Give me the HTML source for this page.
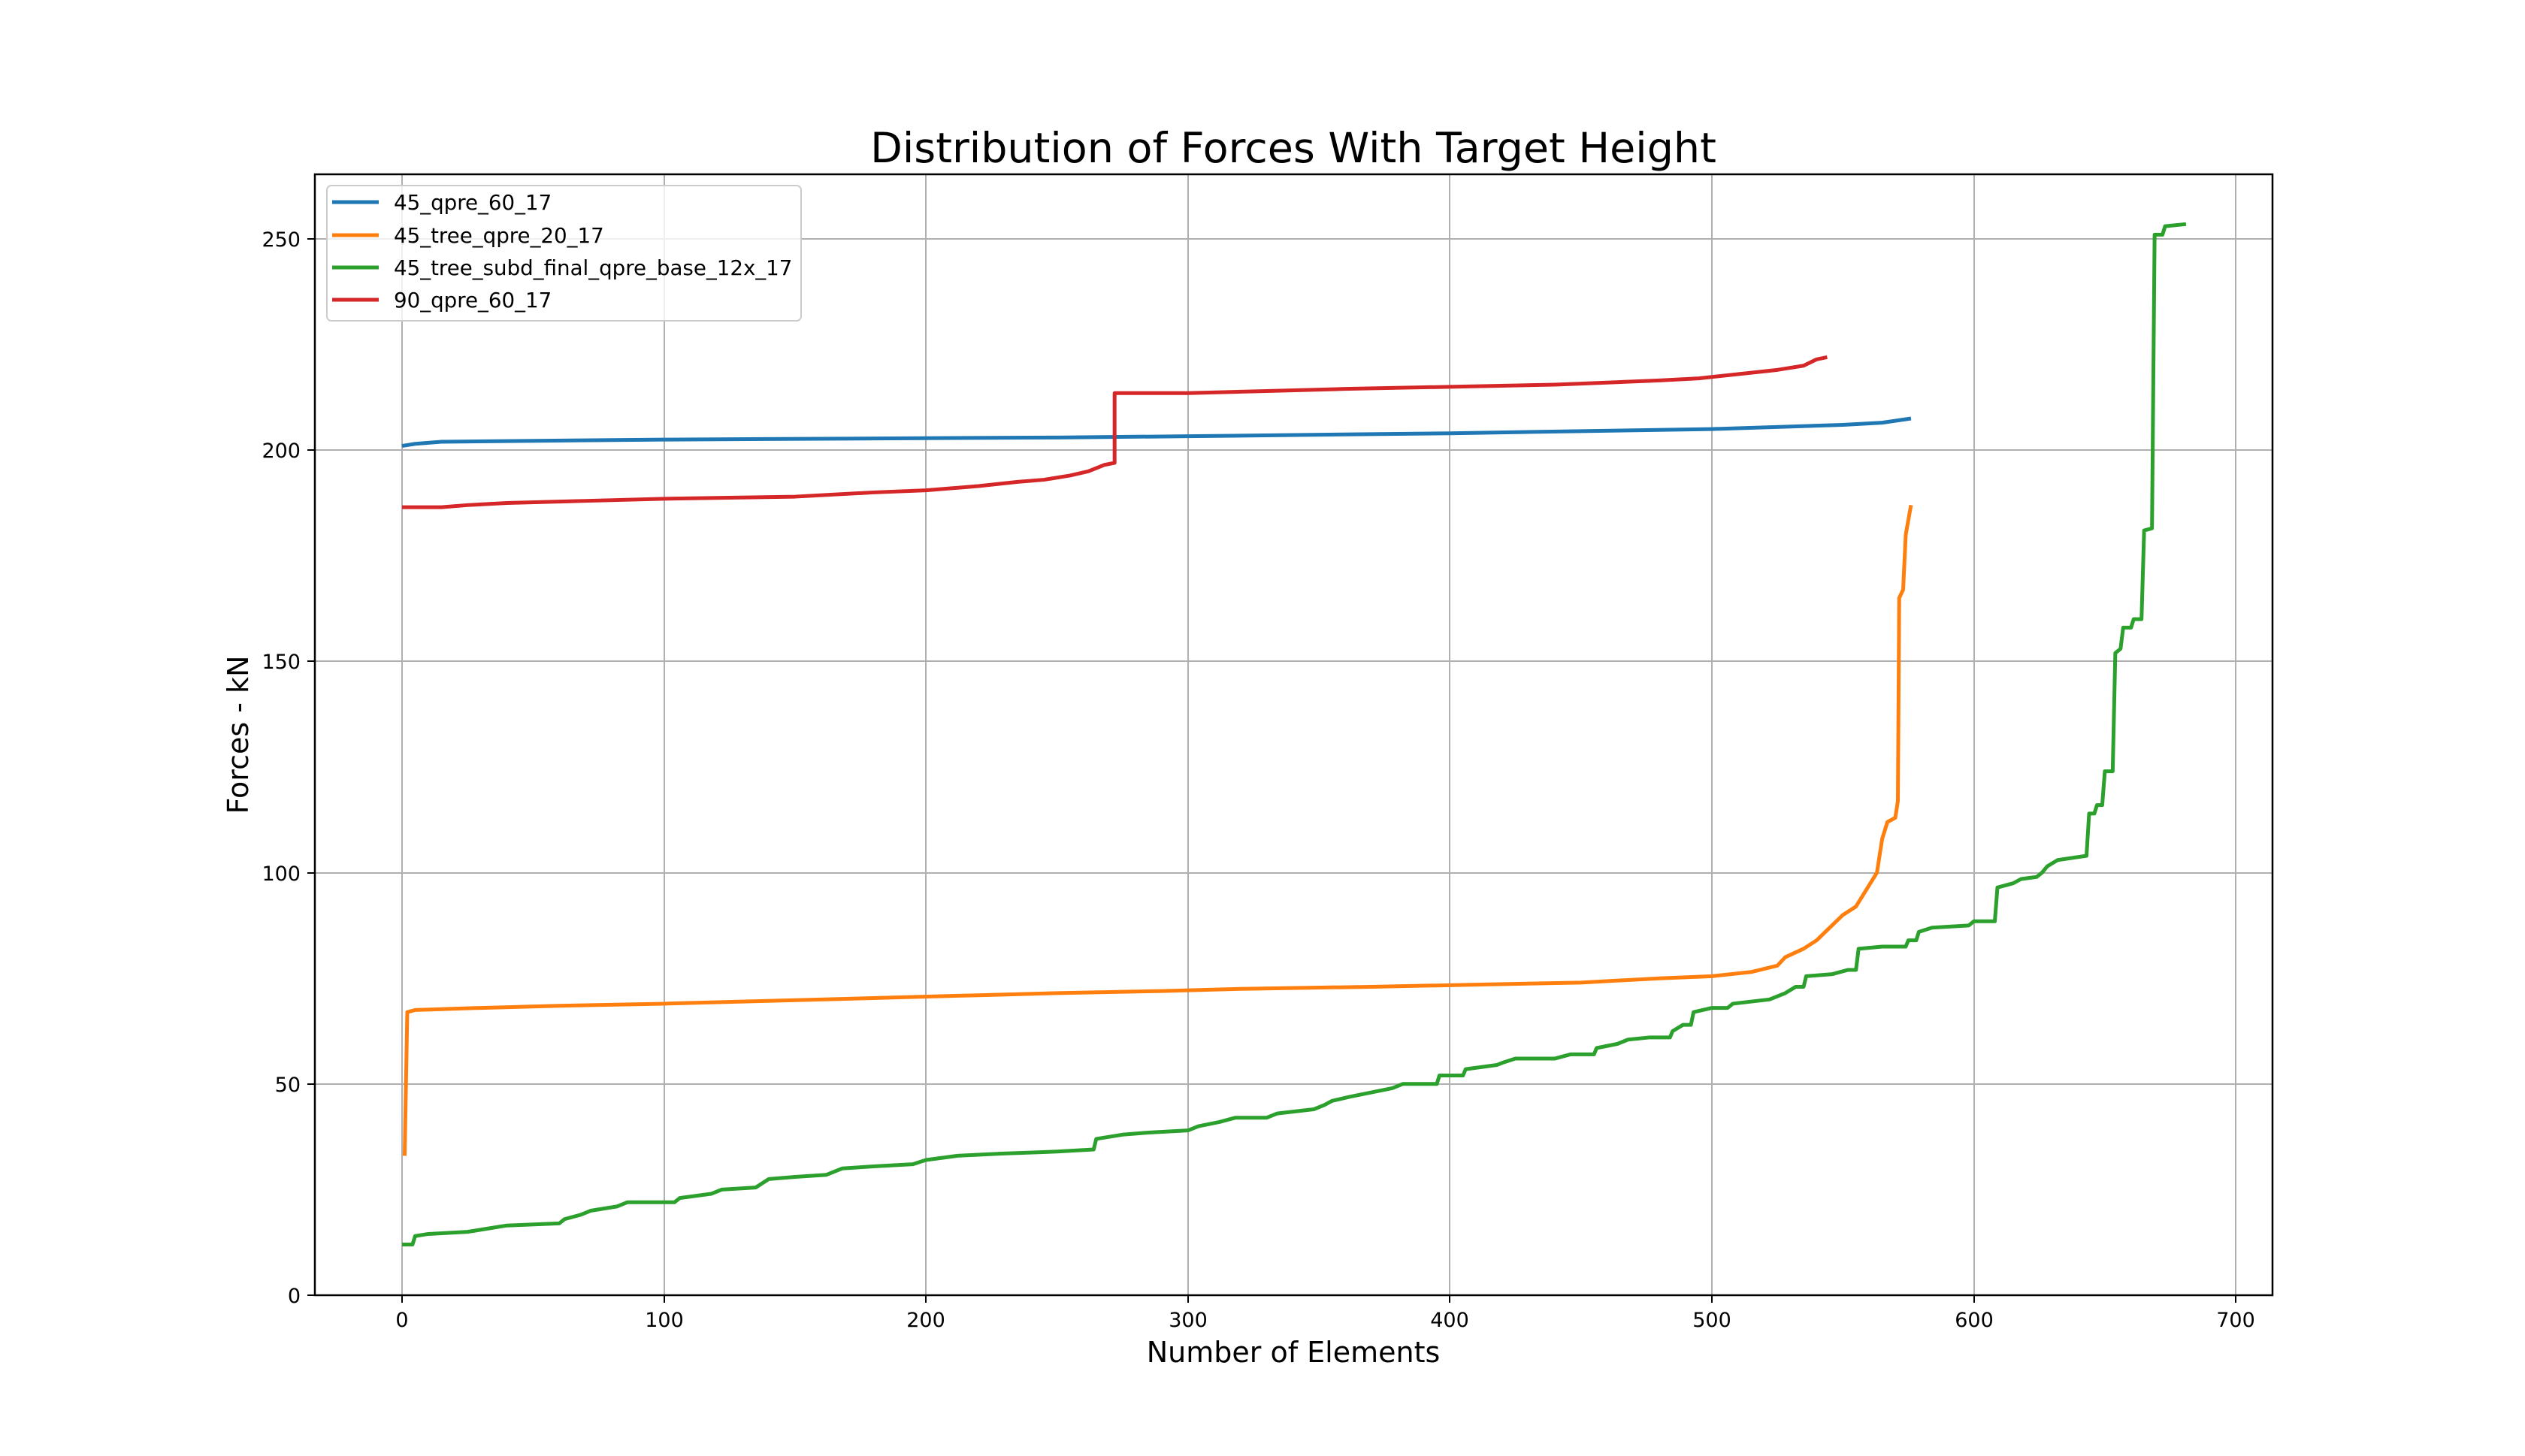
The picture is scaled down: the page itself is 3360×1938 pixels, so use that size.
<!DOCTYPE html>
<html><head><meta charset="utf-8"><style>
html,body{margin:0;padding:0;background:#fff;}
svg{display:block;font-family:"DejaVu Sans","Liberation Sans",sans-serif;}
</style></head><body>
<svg width="3360" height="1938" viewBox="0 0 3360 1938" xmlns="http://www.w3.org/2000/svg">
<rect width="3360" height="1938" fill="#fff"/>
<g stroke="#b0b0b0" stroke-width="2">
<line x1="535" y1="232" x2="535" y2="1724"/><line x1="884" y1="232" x2="884" y2="1724"/>
<line x1="1232" y1="232" x2="1232" y2="1724"/><line x1="1581" y1="232" x2="1581" y2="1724"/>
<line x1="1929" y1="232" x2="1929" y2="1724"/><line x1="2278" y1="232" x2="2278" y2="1724"/>
<line x1="2627" y1="232" x2="2627" y2="1724"/><line x1="2975" y1="232" x2="2975" y2="1724"/>
<line x1="419" y1="1724" x2="3024" y2="1724"/><line x1="419" y1="1443" x2="3024" y2="1443"/>
<line x1="419" y1="1162" x2="3024" y2="1162"/><line x1="419" y1="880" x2="3024" y2="880"/>
<line x1="419" y1="599" x2="3024" y2="599"/><line x1="419" y1="318" x2="3024" y2="318"/>
</g>
<g transform="matrix(3.486,0,0,-5.624,535,1724)" fill="none" stroke-linejoin="round">
<polyline vector-effect="non-scaling-stroke" stroke="#1f77b4" stroke-width="5" points="0,201 5,201.5 15,202 100,202.5 250,203 300,203.3 400,204 500,205 550,206 565,206.5 576,207.5"/>
<polyline vector-effect="non-scaling-stroke" stroke="#ff7f0e" stroke-width="5" points="1,33 2,67 5,67.5 30,68 60,68.5 100,69 130,69.5 160,70 190,70.5 220,71 250,71.5 290,72 320,72.5 370,73 410,73.5 450,74 480,75 500,75.5 515,76.5 525,78 528,80 535,82 540,84 545,87 550,90 555,92 558,95 563,100 565,108 567,112 570,113 571,117 571.5,165 573,167 574,180 576,187"/>
<polyline vector-effect="non-scaling-stroke" stroke="#2ca02c" stroke-width="5" points="0,12 4,12 5,14 10,14.5 25,15 35,16 40,16.5 60,17 62,18 68,19 72,20 82,21 86,22 104,22 106,23 118,24 122,25 135,25.5 140,27.5 150,28 162,28.5 168,30 180,30.5 195,31 200,32 212,33 228,33.5 250,34 264,34.5 265,37 275,38 285,38.5 300,39 304,40 312,41 318,42 330,42 334,43 348,44 352,45 355,46 362,47 370,48 378,49 382,50 395,50 396,52 405,52 406,53.5 418,54.5 420,55 425,56 440,56 446,57 455,57 456,58.5 464,59.5 468,60.5 476,61 484,61 485,62.5 489,64 492,64 493,67 500,68 506,68 508,69 522,70 528,71.5 532,73 535,73 536,75.5 546,76 552,77 555,77 556,82 565,82.5 574,82.5 575,84 578,84 579,86 584,87 598,87.5 600,88.5 608,88.5 609,96.5 615,97.5 618,98.5 624,99 626,100 628,101.5 632,103 643,104 644,114 646,114 647,116 649,116 650,124 653,124 654,152 656,153 657,158 660,158 661,160 664,160 665,181 668,181.5 669,251 672,251 673,253 681,253.5"/>
<polyline vector-effect="non-scaling-stroke" stroke="#d62728" stroke-width="5" points="0,186.5 15,186.5 25,187 40,187.5 70,188 100,188.5 150,189 180,190 200,190.5 220,191.5 235,192.5 245,193 255,194 262,195 268,196.5 272,197 272,213.5 300,213.5 330,214 360,214.5 400,215 440,215.5 460,216 480,216.5 495,217 510,218 525,219 535,220 540,221.5 544,222"/>
</g>
<rect x="419" y="232" width="2605" height="1492" fill="none" stroke="#000" stroke-width="2.5"/>
<g stroke="#000" stroke-width="2">
<line x1="535" y1="1724" x2="535" y2="1734"/><line x1="884" y1="1724" x2="884" y2="1734"/>
<line x1="1232" y1="1724" x2="1232" y2="1734"/><line x1="1581" y1="1724" x2="1581" y2="1734"/>
<line x1="1929" y1="1724" x2="1929" y2="1734"/><line x1="2278" y1="1724" x2="2278" y2="1734"/>
<line x1="2627" y1="1724" x2="2627" y2="1734"/><line x1="2975" y1="1724" x2="2975" y2="1734"/>
<line x1="409" y1="1724" x2="419" y2="1724"/><line x1="409" y1="1443" x2="419" y2="1443"/>
<line x1="409" y1="1162" x2="419" y2="1162"/><line x1="409" y1="880" x2="419" y2="880"/>
<line x1="409" y1="599" x2="419" y2="599"/><line x1="409" y1="318" x2="419" y2="318"/>
</g>
<g font-size="27" text-anchor="middle" fill="#000">
<text x="535" y="1766">0</text><text x="884" y="1766">100</text><text x="1232" y="1766">200</text>
<text x="1581" y="1766">300</text><text x="1929" y="1766">400</text><text x="2278" y="1766">500</text>
<text x="2627" y="1766">600</text><text x="2975" y="1766">700</text>
</g>
<g font-size="27" text-anchor="end" fill="#000">
<text x="400" y="1734">0</text><text x="400" y="1453">50</text><text x="400" y="1172">100</text>
<text x="400" y="890">150</text><text x="400" y="609">200</text><text x="400" y="328">250</text>
</g>
<text x="1721" y="216" font-size="55.5" text-anchor="middle">Distribution of Forces With Target Height</text>
<text x="1721" y="1813" font-size="38" text-anchor="middle">Number of Elements</text>
<text transform="translate(330,978) rotate(-90)" font-size="38" text-anchor="middle">Forces - kN</text>
<rect x="435" y="247" width="631" height="180" rx="6" fill="#fff" fill-opacity="0.8" stroke="#ccc" stroke-width="2"/>
<g stroke-width="5">
<line x1="442" y1="269" x2="504" y2="269" stroke="#1f77b4"/>
<line x1="442" y1="313" x2="504" y2="313" stroke="#ff7f0e"/>
<line x1="442" y1="356" x2="504" y2="356" stroke="#2ca02c"/>
<line x1="442" y1="399" x2="504" y2="399" stroke="#d62728"/>
</g>
<g font-size="27.7" fill="#000">
<text x="524" y="279">45_qpre_60_17</text>
<text x="524" y="323">45_tree_qpre_20_17</text>
<text x="524" y="366">45_tree_subd_final_qpre_base_12x_17</text>
<text x="524" y="409">90_qpre_60_17</text>
</g>
</svg>
</body></html>
